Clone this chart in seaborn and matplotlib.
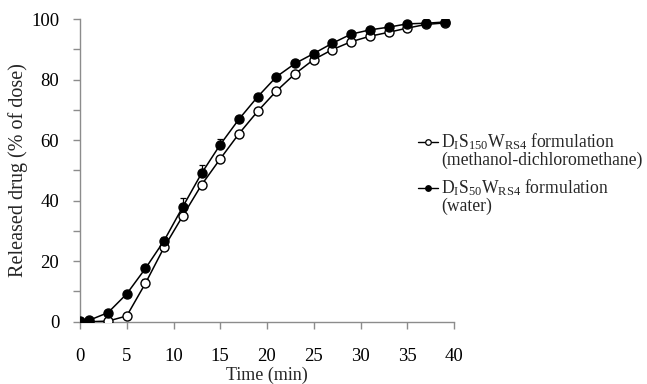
import numpy as np
import pandas as pd
import seaborn as sns
import matplotlib
matplotlib.use("Agg")
import matplotlib.pyplot as plt
from matplotlib.lines import Line2D

# Sampling times (min)
time_min = [0, 1, 3, 5, 7, 9, 11, 13, 15, 17, 19, 21, 23, 25, 27, 29, 31, 33, 35, 37, 39]

# Cumulative release (% of dose)
release_mdcm = [0.0, 0.0, 0.2, 1.9, 12.7, 24.6, 35.0, 45.2, 53.8, 62.1, 69.5, 76.2,
                81.9, 86.6, 89.9, 92.5, 94.3, 95.6, 97.0, 98.2, 98.7]
release_water = [0.3, 0.5, 3.0, 9.2, 17.6, 26.8, 38.0, 49.0, 58.5, 66.9, 74.3, 80.9,
                 85.3, 88.6, 92.0, 95.0, 96.4, 97.3, 98.4, 98.6, 99.0]

# Standard deviations (upper error bars)
sd_mdcm = [0.0, 0.0, 0.3, 0.4, 1.5, 1.0, 1.2, 1.0, 1.0, 0.8, 0.8, 0.7,
           0.6, 0.5, 0.5, 0.4, 0.4, 0.4, 0.3, 0.3, 0.3]
sd_water = [0.2, 0.2, 0.5, 0.6, 0.8, 1.2, 2.8, 2.7, 2.0, 1.2, 1.0, 0.9,
            0.8, 0.7, 0.7, 0.6, 0.5, 0.5, 0.4, 0.4, 0.3]

label_mdcm = "D$_{\\mathrm{I}}$S$_{150}$W$_{\\mathrm{RS4}}$ formulation"
label_water = "D$_{\\mathrm{I}}$S$_{50}$W$_{\\mathrm{RS4}}$ formulation"
sub_mdcm = "(methanol-dichloromethane)"
sub_water = "(water)"

sns.set_theme(style="white")
plt.rcParams["font.family"] = ["Liberation Serif", "DejaVu Serif"]
plt.rcParams["mathtext.fontset"] = "custom"
plt.rcParams["mathtext.rm"] = "Liberation Serif"
plt.rcParams["mathtext.it"] = "Liberation Serif:italic"

df = pd.DataFrame({
    "time": time_min * 2,
    "release": release_mdcm + release_water,
    "series": ["mdcm"] * len(time_min) + ["water"] * len(time_min),
})

fig = plt.figure(figsize=(6.47, 3.84), dpi=100)
ax = fig.add_axes([80 / 647, 1 - 321.7 / 384, 374 / 647, (321.7 - 19) / 384])

# Upper-only error bars
ax.errorbar(time_min, release_mdcm, yerr=[np.zeros(len(sd_mdcm)), sd_mdcm],
            fmt="none", ecolor="black", elinewidth=0.9, capsize=2.5, capthick=0.9, zorder=2)
ax.errorbar(time_min, release_water, yerr=[np.zeros(len(sd_water)), sd_water],
            fmt="none", ecolor="black", elinewidth=0.9, capsize=2.5, capthick=0.9, zorder=2)

sns.lineplot(data=df[df.series == "mdcm"], x="time", y="release", ax=ax,
             color="black", linewidth=1.1, marker="o", markersize=6.5,
             markerfacecolor="white", markeredgecolor="black", markeredgewidth=1.0,
             zorder=3)
sns.lineplot(data=df[df.series == "water"], x="time", y="release", ax=ax,
             color="black", linewidth=1.1, marker="o", markersize=6.5,
             markerfacecolor="black", markeredgecolor="black", markeredgewidth=1.0,
             zorder=4)

ax.set_xlim(0, 40)
ax.set_ylim(0, 100)
ax.set_xticks(range(0, 41, 5))
ax.set_yticks(range(0, 101, 10))
ax.set_yticklabels([str(v) if v % 20 == 0 else "" for v in range(0, 101, 10)])

for side in ["top", "right"]:
    ax.spines[side].set_visible(False)
for side in ["left", "bottom"]:
    ax.spines[side].set_color("#8c8c8c")
    ax.spines[side].set_linewidth(1.0)
ax.tick_params(axis="both", which="major", direction="out", length=5, width=1.0,
               color="#8c8c8c", labelsize=13.5, labelcolor="black",
               left=True, bottom=True)
ax.tick_params(axis="y", pad=10)
ax.tick_params(axis="x", pad=14)

ax.set_xlabel("Time (min)", fontsize=13, va="center")
ax.set_ylabel("Released drug (% of dose)", fontsize=14.5, va="center")
ax.xaxis.set_label_coords(0.5, -0.176)
ax.yaxis.set_label_coords(-0.166, 0.5)

# Legend drawn in figure coordinates
W, H = 647, 384
for y, face, lab, sub in [(142, "white", label_mdcm, sub_mdcm),
                          (188, "black", label_water, sub_water)]:
    fig.add_artist(Line2D([418 / W, 428 / W, 438 / W], [1 - y / H] * 3,
                          color="black", linewidth=1.0, marker="o", markersize=4.0,
                          markevery=[1], markerfacecolor=face, markeredgecolor="black",
                          markeredgewidth=0.9))
    fig.text(441 / W, 1 - y / H, lab, fontsize=12.7, va="center", ha="left")
    fig.text(441 / W, 1 - (y + 18) / H, sub, fontsize=12.7, va="center", ha="left")

fig.savefig("out.png", dpi=100)
